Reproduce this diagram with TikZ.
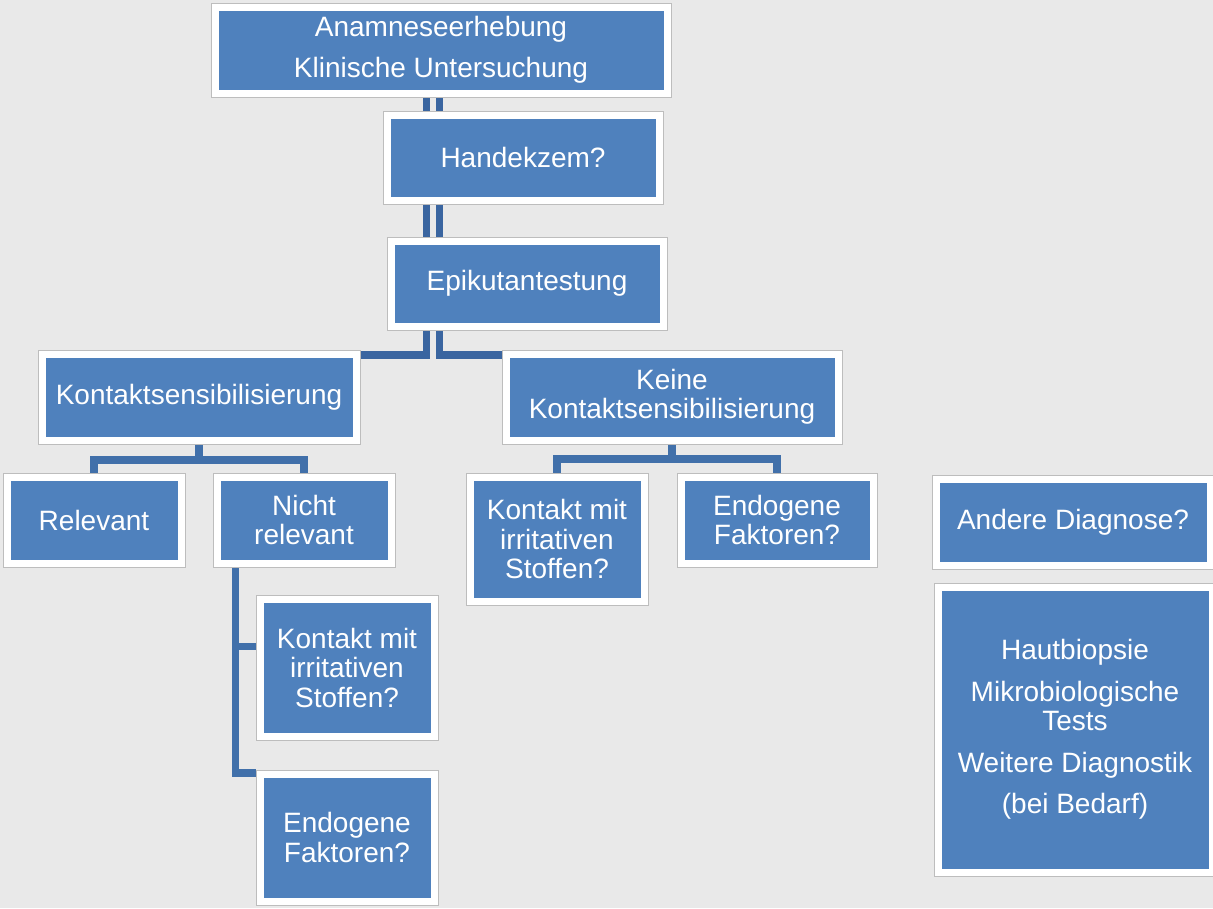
\documentclass[tikz,border=0pt]{standalone}
\usepackage{fontspec}
\setmainfont{Liberation Sans}
\usetikzlibrary{backgrounds}
\definecolor{bgc}{HTML}{E9E9E9}
\definecolor{boxblue}{HTML}{4F81BD}
\definecolor{conncol}{HTML}{4170AA}
\definecolor{spinecol}{HTML}{3A65A0}
\definecolor{bordergray}{HTML}{BDBDBD}
\tikzset{
  box/.style={draw=bordergray, line width=1pt, fill=white, text=white,
    align=center, inner sep=0pt, outer sep=0pt,
    font=\fontsize{28}{29.5}\selectfont,
    path picture={\fill[boxblue] ([shift={(7.5pt,-7.5pt)}]path picture bounding box.north west)
       rectangle ([shift={(-7.5pt,7.5pt)}]path picture bounding box.south east);}},
  conn/.style={draw=conncol, line width=7.5pt},
  spine/.style={draw=spinecol, line width=7.5pt}
}
\begin{document}
\begin{tikzpicture}[x=1pt, y=-1pt]
\useasboundingbox (0,0) rectangle (1213,908);
\begin{pgfonlayer}{background}
\fill[bgc] (0,0) rectangle (1213,908);
\end{pgfonlayer}

\node[box, minimum width=460pt, minimum height=94pt] (top) at (441,50)
  {Anamneseerhebung\\[12pt]Klinische Untersuchung};
\node[box, minimum width=280pt, minimum height=93pt] (hand) at (523,157.5) {Handekzem?};
\node[box, minimum width=280pt, minimum height=93pt] (epi) at (527,283.5) {Epikutantestung};
\node[box, minimum width=322pt, minimum height=94pt] (ks) at (199,397) {Kontaktsensibilisierung};
\node[box, minimum width=340pt, minimum height=94pt] (keine) at (672,397) {Keine\\Kontaktsensibilisierung};
\node[box, minimum width=182pt, minimum height=94pt] (rel) at (94,520) {Relevant};
\node[box, minimum width=182pt, minimum height=94pt] (nrel) at (304,520) {Nicht\\relevant};
\node[box, minimum width=182pt, minimum height=145pt] (kmi1) at (347,667.5) {Kontakt mit\\irritativen\\Stoffen?};
\node[box, minimum width=182pt, minimum height=135pt] (endo1) at (347,837.5) {Endogene\\Faktoren?};
\node[box, minimum width=182pt, minimum height=132pt] (kmi2) at (557,539) {Kontakt mit\\irritativen\\Stoffen?};
\node[box, minimum width=200pt, minimum height=94pt] (endo2) at (777,520) {Endogene\\Faktoren?};
\node[box, minimum width=282pt, minimum height=94pt] (andere) at (1073,522) {Andere Diagnose?};
\node[box, minimum width=282pt, minimum height=293pt] (haut) at (1075,729.5)
  {Hautbiopsie\\[12pt]Mikrobiologische\\Tests\\[12pt]Weitere Diagnostik\\[12pt](bei Bedarf)};

\begin{pgfonlayer}{background}
\draw[spine] ([xshift=-14.5pt]top.south) |- ([yshift=42pt]ks.east);
\draw[spine] ([xshift=-1.5pt]top.south) |- ([yshift=42pt]keine.west);
\draw[conn] (ks.south) -- ++(0,16) -| (rel.north);
\draw[conn] (ks.south) -- ++(0,16) -| (nrel.north);
\draw[conn] ([xshift=-68.5pt]nrel.south) |- ([yshift=21pt]kmi1.west);
\draw[conn] ([xshift=-68.5pt]nrel.south) |- ([yshift=64.5pt]endo1.west);
\draw[conn] (keine.south) -- ++(0,15) -| (kmi2.north);
\draw[conn] (keine.south) -- ++(0,15) -| (endo2.north);
\end{pgfonlayer}
\end{tikzpicture}
\end{document}
